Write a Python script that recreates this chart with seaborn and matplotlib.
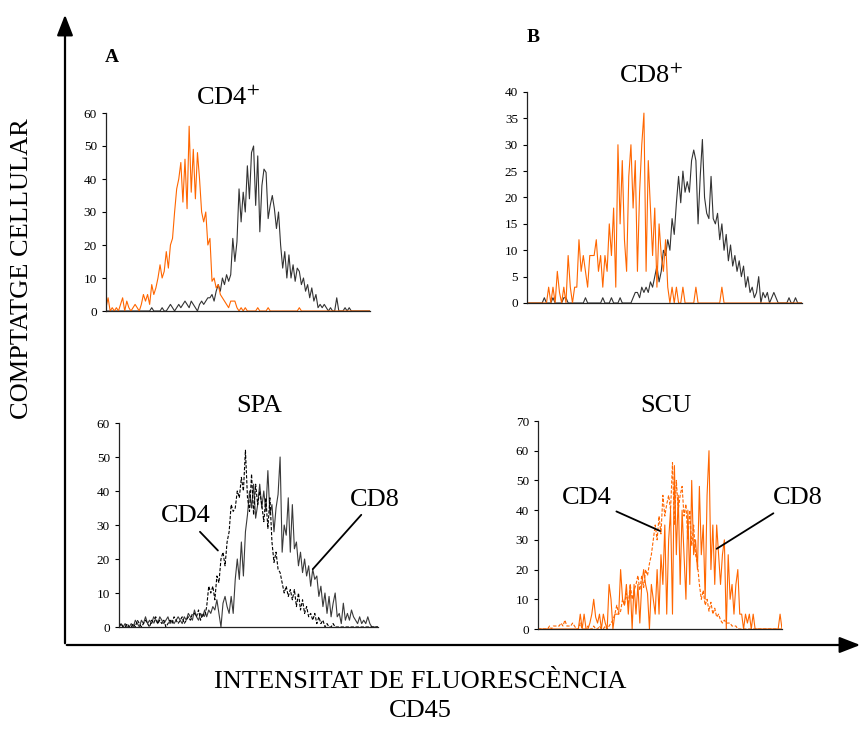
import numpy as np
import pandas as pd
import matplotlib
matplotlib.use("Agg")
import matplotlib.pyplot as plt
import seaborn as sns

sns.set_style("white")
plt.rcParams['font.family'] = ['Liberation Serif', 'DejaVu Serif']
plt.rcParams['mathtext.fontset'] = 'stix'
plt.rcParams['text.color'] = 'black'
plt.rcParams['axes.labelcolor'] = 'black'
plt.rcParams['ytick.color'] = 'black'
plt.rcParams['xtick.color'] = 'black'

# ---------------------------------------------------------------------------
# DATA: cell counts per fluorescence channel (128 channels per histogram)
# ---------------------------------------------------------------------------
# Panel A - CD4+ (orange) and reference population (dark)
a_orange = [1, 4, 0, 1, 0, 1, 0, 2, 4, 0, 3, 1, 0, 1, 2, 1, 0,
            2, 5, 3, 5, 2, 8, 5, 7, 10, 14, 10, 12, 18, 13, 20, 22, 30, 37, 40, 45,
            33, 46, 31, 56, 36, 49, 34, 48, 40, 30, 27, 30, 20, 22, 9, 10, 7, 8, 5, 4,
            3, 2, 1, 3, 3, 3, 1,
            0, 1, 0, 1, 0, 0, 0, 0, 0, 1, 0, 0, 0, 0, 1, 0,
            0, 0, 0, 0, 0, 0, 0, 0, 0, 0, 0, 0, 0, 1, 0, 0,
            0, 0, 0, 0, 0, 0, 0, 0, 0, 0, 0, 0, 0, 0, 0, 0,
            0, 0, 0, 0, 0, 0, 0, 0, 0, 0, 0, 0, 0, 0, 0, 0]
a_dark = [0, 0, 0, 0, 0, 0, 0, 0, 0, 0, 0, 0, 0, 0, 0, 0, 0, 0, 0, 0, 0,
          0, 1, 0, 0, 0, 0, 1, 0, 0, 1, 2, 1, 0, 1, 2, 1, 2, 3, 2, 1, 3, 2, 1, 0, 2, 3, 2, 3, 4,
          4, 5, 3, 6, 8, 6, 10, 8, 11, 9, 11, 22, 15, 21, 37, 27, 36, 30, 44, 34,
          48, 50, 32, 47, 24, 38, 43, 42, 28, 32, 35, 31, 25, 30, 20, 13, 18, 10, 17, 10,
          14, 9, 13, 12, 8, 10, 6, 8, 4, 7, 3, 5, 1, 2, 1, 2, 1, 0, 1, 0,
          0, 4, 0, 0, 0, 1, 0, 1, 0,
          0, 0, 0, 0, 0, 0, 0, 0, 0]

# Panel B - CD8+ (orange) and reference population (dark)
b_orange = [0, 0, 0, 0, 0, 0, 0, 0, 0, 0,
            3, 0, 3, 0, 6, 2, 0, 3, 0, 9,
            3, 0, 3, 3, 12, 6, 9, 6, 3, 9,
            9, 9, 12, 6, 9, 3, 9, 6, 15, 9,
            18, 3, 30, 15, 27, 12, 6, 24, 30, 18,
            27, 6, 21, 30, 36, 6, 27, 18, 9, 18,
            3, 15, 9, 6, 12, 3, 0, 3, 0, 3,
            0, 0, 3, 0, 0, 0, 0, 0, 3, 0,
            0, 0, 0, 0, 0, 0, 0, 0, 0, 0,
            3, 0, 0, 0, 0, 0, 0, 0, 0, 0,
            0, 0, 0, 0, 0, 0, 0, 0, 0, 0,
            0, 0, 0, 0, 0, 0, 0, 0, 0, 0,
            0, 0, 0, 0, 0, 0, 0, 0]
b_dark = [0, 0, 0, 0, 0, 0, 0, 0, 1, 0,
          0, 0, 1, 0, 0, 0, 0, 1, 1, 0,
          0, 0, 0, 0, 0, 0, 0, 1, 0, 0,
          0, 0, 0, 0, 0, 1, 0, 0, 0, 1,
          0, 0, 0, 1, 0, 0, 0, 0, 0, 1,
          2, 2, 1, 3, 2, 3, 2, 4, 3, 5,
          7, 4, 6, 10, 9, 12, 10, 16, 13, 19,
          24, 19, 25, 21, 23, 21, 27, 29, 27, 15,
          24, 31, 20, 17, 16, 24, 16, 15, 17, 12,
          15, 10, 13, 8, 11, 7, 9, 6, 8, 5,
          7, 3, 5, 2, 3, 1, 2, 5, 0, 2,
          1, 2, 0, 1, 2, 1, 0, 0, 0, 0,
          0, 1, 0, 0, 1, 0, 0, 0]

# Panel SPA - CD4 (dashed) and CD8 (solid)
spa_cd4 = [0, 1, 0, 0, 1, 0, 0, 1, 0, 2, 1, 0, 1, 2, 1, 0, 2, 1, 3, 1,
           2, 1, 2, 0, 1, 2, 1, 3, 2, 1, 2, 3, 1, 2, 3, 2, 4,
           4, 3, 5, 2, 4, 3, 6, 12, 10, 12, 8, 15, 13, 20, 22, 18, 25, 28, 36, 34, 35,
           40, 38, 44, 40, 52, 38, 34, 45, 33, 42, 36, 40, 36, 31, 38, 29, 38, 25, 19,
           22, 17, 16, 13, 10, 12, 9, 11, 8, 11, 6, 10, 5, 8, 4, 6, 3, 4, 2, 4, 1, 3,
           1, 2, 0, 1, 0, 0, 1,
           0, 0, 0, 0, 0, 0, 0, 0, 0, 0, 0, 0, 0, 0, 0, 0, 0, 0, 0, 0, 0, 0]
spa_cd8 = [0, 1, 0, 1, 0, 0, 1, 0, 2, 1, 0, 2, 1, 3, 1, 2, 1, 3, 2, 1,
           3, 2, 1, 2, 3, 1, 2, 1, 2, 3, 2, 1, 3, 2, 4, 3, 2, 5, 3, 2, 4, 3, 5, 3,
           5, 4, 6, 5, 8, 4, 0, 7, 9, 6, 4, 9, 4, 14, 20, 14, 25, 15, 28, 33, 40, 35,
           42, 32, 36, 42, 35, 40, 34, 46, 33, 36, 28, 35, 39, 50, 22, 30, 27, 38, 22,
           36, 23, 25, 18, 22, 16, 20, 15, 18, 12, 17, 14, 15, 9, 12, 6, 10, 4, 9, 3,
           7, 10, 3, 4, 1, 7, 2, 4, 2, 5, 3, 2, 1, 3, 1, 2, 1, 3, 1,
           0, 0, 0, 0]

# Panel SCU - CD4 (dashed) and CD8 (solid)
scu_cd4 = [0, 0, 0, 0, 0, 0, 1, 0, 1, 1, 1, 1, 2, 1, 3, 1, 1, 1, 2, 1,
           0, 0, 2, 0, 0, 0, 1, 0, 0, 1, 0, 0, 1, 0, 0, 1, 0, 1, 2, 3,
           5, 8, 5, 6, 10, 8, 12, 8, 15, 10, 13, 15, 18, 13, 18, 14, 20, 18, 22, 25,
           30, 35, 30, 38, 32, 45, 38, 42, 45, 40, 56, 35, 50, 40, 45, 48, 38, 42, 30, 40,
           28, 35, 25, 22, 15, 10, 13, 8, 10, 6, 9, 5, 7, 4, 5, 3, 2, 3, 2, 2,
           2, 1, 1, 1, 0,
           0, 0, 0, 0, 0, 0, 0, 0, 0, 0, 0, 0, 0, 0, 0, 0, 0, 0, 0, 0, 0, 0, 0]
scu_cd8 = [0, 0, 0, 0, 0, 0, 0, 0, 0, 0, 0, 0, 0, 0, 0, 0, 0, 0, 0, 0, 0, 0,
           5, 0, 5, 0, 0, 2, 5, 10, 4, 2, 5, 0, 5, 2, 0, 15, 10, 0,
           5, 5, 5, 20, 10, 8, 15, 5, 15, 0, 15, 5, 15, 2, 15, 20, 15, 12, 0, 15,
           10, 5, 20, 5, 25, 15, 35, 5, 30, 40, 5, 55, 25, 45, 15, 40, 25, 10, 40, 15,
           50, 25, 30, 20, 48, 25, 35, 10, 45, 60, 20, 35, 15, 35, 25, 15, 25, 30, 0, 25,
           10, 15, 5, 15, 20, 5, 5, 0, 5, 2, 5, 0, 5, 0,
           0, 0, 0, 0, 0, 0, 0, 0, 0, 0, 0, 0, 5, 0]

Y_TICKS_A = [0, 10, 20, 30, 40, 50, 60]
Y_TICKS_B = [0, 5, 10, 15, 20, 25, 30, 35, 40]
Y_TICKS_SPA = [0, 10, 20, 30, 40, 50, 60]
Y_TICKS_SCU = [0, 10, 20, 30, 40, 50, 60, 70]

ORANGE = '#FF6600'
DARK = '#333333'
BIG = 19

W, H = 863, 731


def fx(x):
    return x / W


def fy(y):
    return 1 - y / H


def px_box(left, right, top, bottom):
    """axes rectangle (figure fraction) from pixel edges"""
    return [left / W, 1 - bottom / H, (right - left) / W, (bottom - top) / H]


def style_axes(ax, yticks):
    ax.set_xlim(0, 127)
    ax.set_ylim(0, yticks[-1])
    ax.set_yticks(yticks)
    ax.set_xticks([])
    ax.set_xlabel('')
    ax.set_ylabel('')
    sns.despine(ax=ax)
    for side in ['left', 'bottom']:
        ax.spines[side].set_color('#222222')
        ax.spines[side].set_linewidth(0.9)
    ax.tick_params(axis='y', direction='out', length=3, width=0.8,
                   labelsize=9.5, pad=3.5, left=True)
    ax.patch.set_alpha(0)


def draw(ax, counts, color, ls='-', lw=0.8):
    df = pd.DataFrame({'channel': np.arange(len(counts)), 'count': counts})
    sns.lineplot(data=df, x='channel', y='count', ax=ax, color=color,
                 linestyle=ls, linewidth=lw)


def pointer(ax, label, tip, text_pos):
    ax.annotate(label, xy=tip, xytext=text_pos, fontsize=BIG,
                ha='center', va='center', annotation_clip=False,
                arrowprops=dict(arrowstyle='-', color='black', lw=1.3,
                                shrinkA=1, shrinkB=0))


fig = plt.figure(figsize=(W / 100, H / 100), dpi=100)

# Panel A
ax_a = fig.add_axes(px_box(106, 370, 113, 311))
draw(ax_a, a_dark, DARK)
draw(ax_a, a_orange, ORANGE)
style_axes(ax_a, Y_TICKS_A)

# Panel B
ax_b = fig.add_axes(px_box(527, 802, 92, 303))
draw(ax_b, b_dark, DARK)
draw(ax_b, b_orange, ORANGE)
style_axes(ax_b, Y_TICKS_B)

# Panel SPA
dash = (0, (3, 1.5))
ax_spa = fig.add_axes(px_box(119, 378, 423, 627))
draw(ax_spa, spa_cd8, '#3a3a3a')
draw(ax_spa, spa_cd4, 'black', ls=dash)
style_axes(ax_spa, Y_TICKS_SPA)
pointer(ax_spa, 'CD4', (48.5, 22.5), (32.5, 32.5))
pointer(ax_spa, 'CD8', (95, 17), (125.5, 37.5))

# Panel SCU
ax_scu = fig.add_axes(px_box(538, 782, 421, 629))
draw(ax_scu, scu_cd8, ORANGE)
draw(ax_scu, scu_cd4, ORANGE, ls=dash)
style_axes(ax_scu, Y_TICKS_SCU)
pointer(ax_scu, 'CD4', (63.5, 33), (25.5, 44))
pointer(ax_scu, 'CD8', (93, 27), (135, 44))

# Panel titles
fig.text(fx(228), fy(105), 'CD4$^{+}$', fontsize=BIG, ha='center', va='baseline')
fig.text(fx(651), fy(83), 'CD8$^{+}$', fontsize=BIG, ha='center', va='baseline')
fig.text(fx(259), fy(412), 'SPA', fontsize=BIG, ha='center', va='baseline')
fig.text(fx(666), fy(412), 'SCU', fontsize=BIG, ha='center', va='baseline')

# Big frame arrows
fig.patches.append(matplotlib.patches.FancyArrowPatch(
    (fx(65), fy(646)), (fx(65), fy(12)), transform=fig.transFigure,
    arrowstyle='-|>,head_length=0.9,head_width=0.35', mutation_scale=14,
    color='black', lw=1.6))
fig.patches.append(matplotlib.patches.FancyArrowPatch(
    (fx(64), fy(645)), (fx(863), fy(645)), transform=fig.transFigure,
    arrowstyle='-|>,head_length=0.9,head_width=0.35', mutation_scale=14,
    color='black', lw=1.6))

# Labels
fig.text(fx(112), fy(58), 'A', fontsize=14, fontweight='bold', ha='center', va='center')
fig.text(fx(533), fy(38), 'B', fontsize=14, fontweight='bold', ha='center', va='center')
fig.text(fx(22), fy(269), 'COMPTATGE CELLULAR', fontsize=BIG, rotation=90,
         ha='center', va='center')
fig.text(fx(420), fy(688), 'INTENSITAT DE FLUORESCÈNCIA', fontsize=BIG,
         ha='center', va='baseline')
fig.text(fx(420), fy(717), 'CD45', fontsize=BIG, ha='center', va='baseline')

fig.savefig('out.png', dpi=100)
